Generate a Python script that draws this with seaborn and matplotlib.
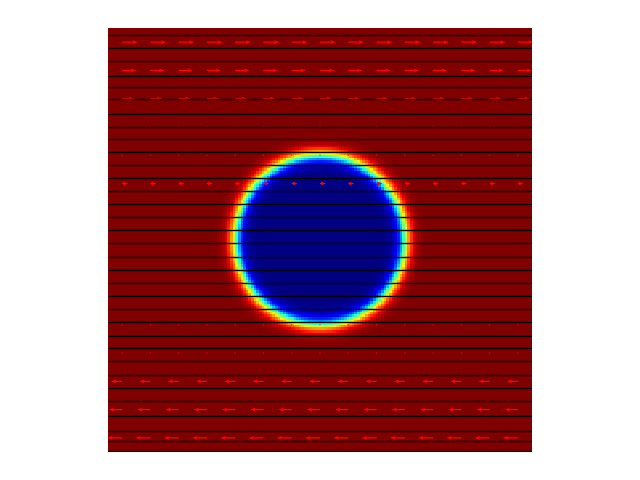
import numpy as np
import matplotlib
matplotlib.use("Agg")
import matplotlib.pyplot as plt
import seaborn as sns

#---- data (domain is the unit square) ----|

# droplet: centre, radius and interface width
drop_center = (0.5, 0.5)
drop_radius = 0.2
drop_width = 0.018

# black streamlines (horizontal), y positions
stream_y = [0.984, 0.953, 0.922, 0.887, 0.861, 0.833, 0.797, 0.767, 0.738,
            0.708, 0.677, 0.646, 0.616, 0.585, 0.554, 0.524, 0.493, 0.460,
            0.429, 0.399, 0.368, 0.337, 0.307, 0.274, 0.245, 0.215, 0.182,
            0.151, 0.120, 0.085, 0.050, 0.026, 0.002]

# red velocity arrows: 15 x 15 grid, u per row from top to bottom
n_arrows = 15
row_u = [0.037, 0.033, 0.0276, 0.0005, 0.0005, 0.014,
         np.nan, np.nan, np.nan, np.nan,
         0.0005, -0.0005, -0.026, -0.031, -0.035]

#---- phase field ----|
N = 160
cells = (np.arange(N) + 0.5) / N
gx, gy = np.meshgrid(cells, cells)
r = np.hypot(gx - drop_center[0], gy - drop_center[1])
phi = np.tanh((r - drop_radius) / drop_width)

fig = plt.figure(figsize=(6.4, 4.8), dpi=100)
ax = fig.add_axes([108 / 640, 28 / 480, 424 / 640, 424 / 480])

sns.heatmap(phi, ax=ax, cmap="jet", vmin=-1, vmax=1, cbar=False,
            xticklabels=False, yticklabels=False)
ax.set_ylim(0, N)
ax.set_xlim(0, N)
ax.set_aspect("equal")

# streamlines
ax.hlines(np.array(stream_y) * N, 0, N, colors="black", linewidth=1.0)

# velocity arrows
pos = (np.arange(n_arrows) + 0.5) / n_arrows
qx, qy = np.meshgrid(pos, pos[::-1])
U = np.tile(np.array(row_u)[:, None], (1, n_arrows)) * N
V = np.zeros_like(U)
ax.quiver(qx * N, qy * N, U, V, color="red", angles="xy", scale_units="xy",
          scale=1, width=0.003, headwidth=3, headlength=4,
          headaxislength=3.5)

ax.axis("off")
fig.savefig("out.png", dpi=100)
